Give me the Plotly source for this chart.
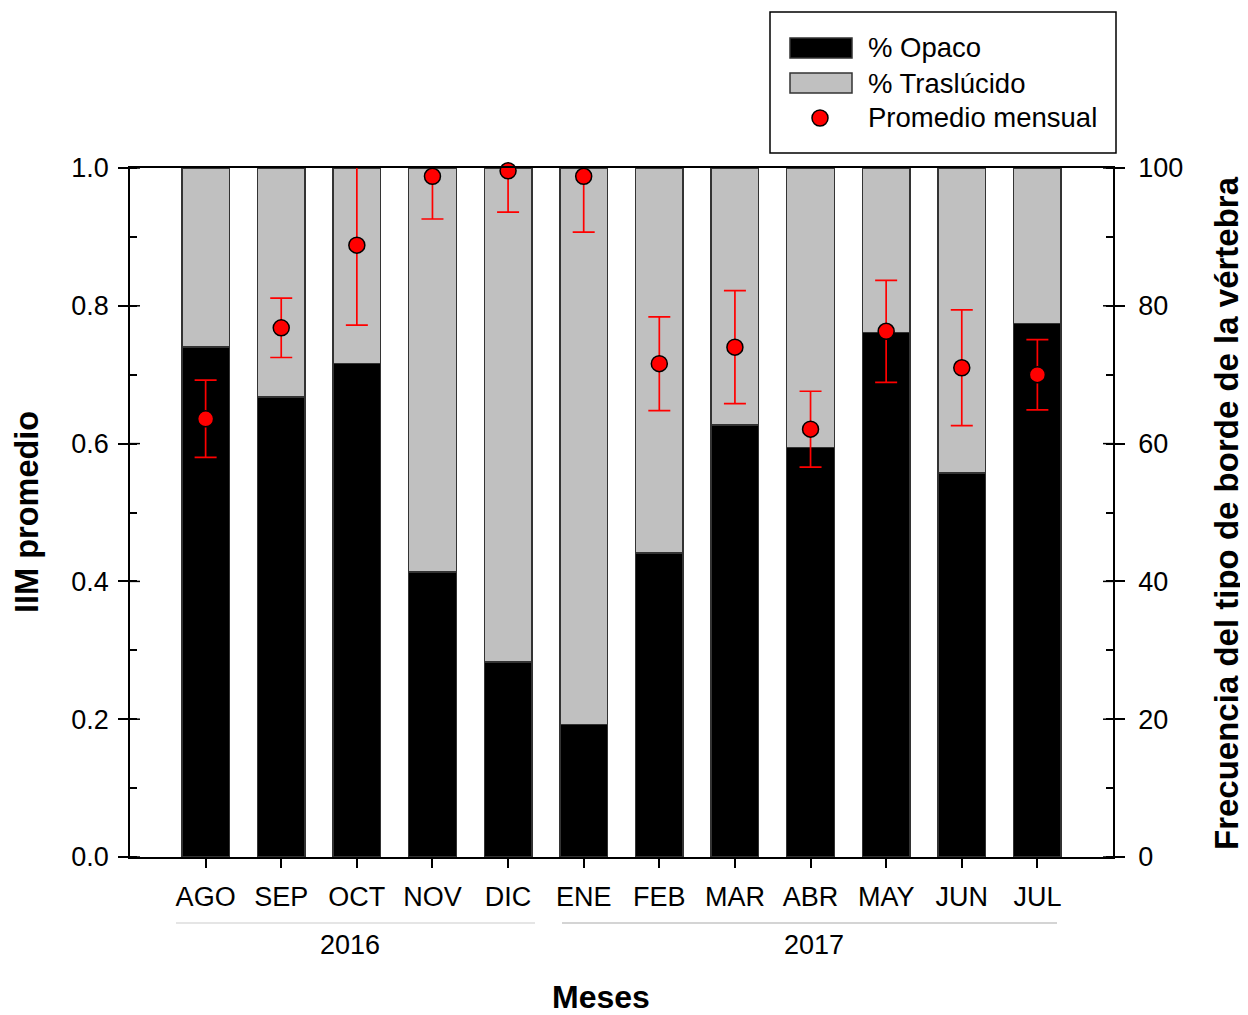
import plotly.graph_objects as go

months = ["AGO", "SEP", "OCT", "NOV", "DIC", "ENE", "FEB", "MAR", "ABR", "MAY", "JUN", "JUL"]
opaco = [74.0, 66.8, 71.6, 41.4, 28.3, 19.2, 44.1, 62.7, 59.4, 76.1, 55.7, 77.4]
traslucido = [26.0, 33.2, 28.4, 58.6, 71.7, 80.8, 55.9, 37.3, 40.6, 23.9, 44.3, 22.6]
iim_mean = [0.636, 0.768, 0.888, 0.988, 0.996, 0.988, 0.716, 0.740, 0.621, 0.763, 0.710, 0.700]
iim_err = [0.056, 0.043, 0.116, 0.062, 0.060, 0.081, 0.068, 0.082, 0.055, 0.074, 0.084, 0.051]
years = ["2016", "2017"]
left_ticks = [0.0, 0.2, 0.4, 0.6, 0.8, 1.0]
right_ticks = [0, 20, 40, 60, 80, 100]

FONT = "Liberation Sans, Arial, sans-serif"
OFF = 8  # page body margin
L, R, T, B = 130, 1113, 168, 857
W, H = 1248 - OFF, 1015 - OFF


def px(x):
    return (x - L) / (R - L)


def py(y):
    return (B - y) / (B - T)


fig = go.Figure()
fig.add_trace(go.Bar(x=months, y=opaco, name="% Opaco", yaxis="y",
                     marker=dict(color="black", line=dict(color="#333333", width=1.5)),
                     width=0.63, showlegend=False))
fig.add_trace(go.Bar(x=months, y=traslucido, name="% Traslúcido", yaxis="y",
                     marker=dict(color="#C0C0C0", line=dict(color="#333333", width=1.5)),
                     width=0.63, showlegend=False))
fig.add_trace(go.Scatter(x=months, y=iim_mean, yaxis="y2", mode="markers",
                         marker=dict(size=1, color="rgba(0,0,0,0)"),
                         error_y=dict(type="data", array=iim_err, color="red", thickness=1.7, width=11),
                         cliponaxis=True, showlegend=False, hoverinfo="skip"))
fig.add_trace(go.Scatter(x=months, y=iim_mean, yaxis="y2", mode="markers", name="Promedio mensual",
                         marker=dict(size=16, color="red", line=dict(color="black", width=1.5)),
                         cliponaxis=False, showlegend=False))

shapes = []
annotations = []
tw = 10 / (R - L)
for v in left_ticks:
    shapes.append(dict(type="line", xref="paper", yref="y2", x0=0, x1=tw, y0=v, y1=v,
                       line=dict(color="black", width=1.5)))
for v in right_ticks:
    shapes.append(dict(type="line", xref="paper", yref="y", x0=1 - tw, x1=1, y0=v, y1=v,
                       line=dict(color="black", width=1.5)))

# year groupings
year_spans = [(176, 535, 350, "#cccccc"), (562, 1057, 814, "#aaaaaa")]
for (x0, x1, xc, col), yr in zip(year_spans, years):
    shapes.append(dict(type="line", xref="paper", yref="paper", x0=px(x0), x1=px(x1),
                       y0=py(923), y1=py(923), line=dict(color=col, width=1.2)))
    annotations.append(dict(text=yr, xref="paper", yref="paper", x=px(xc), y=py(945),
                            showarrow=False, font=dict(size=27, color="black", family=FONT),
                            xanchor="center", yanchor="middle"))

# axis titles
annotations.append(dict(text="<b>Meses</b>", xref="paper", yref="paper", x=px(601), y=py(997),
                        xanchor="center", yanchor="middle",
                        showarrow=False, font=dict(size=32, color="black", family=FONT)))
annotations.append(dict(text="<b>IIM promedio</b>", xref="paper", yref="paper", x=px(27), y=py(512),
                        xanchor="center", yanchor="middle",
                        showarrow=False, textangle=-90, font=dict(size=32.5, color="black", family=FONT)))
annotations.append(dict(text="<b>Frecuencia del tipo de borde de la vértebra</b>", xref="paper", yref="paper",
                        x=px(1226), y=py(513), showarrow=False, textangle=-90,
                        xanchor="center", yanchor="middle",
                        font=dict(size=33, color="black", family=FONT)))

# legend
shapes.append(dict(type="rect", xref="paper", yref="paper", x0=px(770), x1=px(1116), y0=py(153), y1=py(12),
                   line=dict(color="black", width=1.5), fillcolor="white"))
shapes.append(dict(type="rect", xref="paper", yref="paper", x0=px(790), x1=px(852), y0=py(58), y1=py(38),
                   line=dict(color="#333333", width=1.5), fillcolor="black"))
shapes.append(dict(type="rect", xref="paper", yref="paper", x0=px(790), x1=px(852), y0=py(93), y1=py(73),
                   line=dict(color="#333333", width=1.5), fillcolor="#C0C0C0"))
shapes.append(dict(type="circle", xref="paper", yref="paper", x0=px(812), x1=px(828), y0=py(126), y1=py(110),
                   line=dict(color="black", width=1.5), fillcolor="red"))
for txt, yc in [("% Opaco", 48), ("% Traslúcido", 83), ("Promedio mensual", 118)]:
    annotations.append(dict(text=txt, xref="paper", yref="paper", x=px(866), y=py(yc), showarrow=False,
                            xanchor="left", yanchor="middle", font=dict(size=27.5, color="black", family=FONT)))

fig.update_layout(
    width=W, height=H,
    margin=dict(l=L - OFF, r=1248 - R, t=T - OFF, b=1015 - B, autoexpand=False),
    paper_bgcolor="white", plot_bgcolor="white",
    barmode="stack",
    font=dict(family=FONT, size=27, color="black"),
    xaxis=dict(type="category", range=[-1, 12], showline=True, mirror=True, linecolor="black", linewidth=1.5,
               ticks="outside", ticklen=9, tickwidth=1.5, tickcolor="black", showgrid=False, zeroline=False,
               ticklabelstandoff=6, tickfont=dict(size=27, family=FONT)),
    yaxis=dict(side="right", range=[0, 100], tickvals=right_ticks, showline=True, linecolor="black", linewidth=1.5,
               ticks="outside", ticklen=10, tickwidth=1.5, tickcolor="black", showgrid=False, zeroline=False,
               ticklabelstandoff=8, tickfont=dict(size=27, family=FONT),
               minor=dict(ticks="inside", dtick=10, ticklen=7, tickwidth=1.5, tickcolor="black", showgrid=False)),
    yaxis2=dict(overlaying="y", side="left", range=[0, 1], tickvals=left_ticks, tickformat=".1f",
                showline=True, linecolor="black", linewidth=1.5,
                ticks="outside", ticklen=10, tickwidth=1.5, tickcolor="black", showgrid=False, zeroline=False,
                ticklabelstandoff=4, tickfont=dict(size=27, family=FONT),
                minor=dict(ticks="inside", dtick=0.1, ticklen=7, tickwidth=1.5, tickcolor="black", showgrid=False)),
    shapes=shapes, annotations=annotations, showlegend=False,
)

fig.write_html("out.html")
